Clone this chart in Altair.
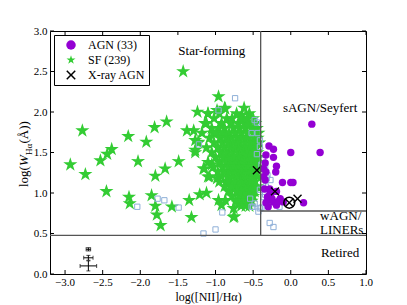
import altair as alt
import pandas as pd

# ---------------- data ----------------
sf_points = [
    # isolated SF galaxies
    (-2.93, 1.35), (-2.77, 1.77), (-2.73, 1.23), (-2.53, 1.40), (-2.44, 1.48), (-2.38, 1.54),
    (-2.45, 1.02), (-2.16, 1.70), (-2.03, 1.39), (-2.15, 0.95), (-2.14, 0.87), (-1.92, 1.63),
    (-1.81, 1.81), (-1.65, 1.88), (-1.80, 1.21), (-1.67, 1.30), (-1.85, 0.97), (-1.80, 0.84),
    (-1.78, 0.73), (-1.73, 0.60), (-1.58, 0.83), (-1.49, 1.39), (-1.38, 1.77), (-1.29, 1.77),
    (-1.35, 0.91), (-1.32, 0.70), (-1.24, 2.00), (-1.43, 2.50), (-0.96, 2.19), (-0.87, 2.04),
    (-1.10, 1.98), (-0.65, 1.96), (-1.15, 1.30), (-1.10, 1.20), (-0.98, 1.18), (-1.21, 0.98),
    (-1.12, 1.00), (-0.96, 0.91), (-0.87, 0.91), (-0.92, 0.85), (-0.76, 0.81), (-0.70, 0.87),
    (-0.75, 0.71), (-0.85, 1.12), (-0.74, 1.06), (-1.27, 1.53), (-1.23, 1.63), (-1.05, 1.35),
    (-0.98, 2.02), (-1.14, 1.86), (-1.03, 1.74), (-1.27, 1.65), (-1.16, 1.30), (-0.76, 0.70),
    # dense SF locus
    (-0.88, 2.05), (-0.62, 2.05),
    (-1.10, 1.98), (-0.95, 1.98), (-0.72, 1.98), (-0.55, 1.98),
    (-1.02, 1.92), (-0.85, 1.92), (-0.78, 1.92), (-0.65, 1.92), (-0.58, 1.92), (-0.50, 1.92),
    (-1.12, 1.86), (-0.92, 1.86), (-0.80, 1.86), (-0.70, 1.86), (-0.62, 1.86), (-0.55, 1.86), (-0.47, 1.86),
    (-1.05, 1.80), (-0.96, 1.80), (-0.88, 1.80), (-0.76, 1.80), (-0.68, 1.80), (-0.60, 1.80), (-0.52, 1.80), (-0.45, 1.80),
    (-1.18, 1.74), (-0.99, 1.74), (-0.90, 1.74), (-0.82, 1.74), (-0.74, 1.74), (-0.66, 1.74), (-0.58, 1.74), (-0.50, 1.74), (-0.43, 1.74),
    (-1.08, 1.68), (-0.94, 1.68), (-0.86, 1.68), (-0.79, 1.68), (-0.71, 1.68), (-0.64, 1.68), (-0.57, 1.68), (-0.49, 1.68), (-0.44, 1.68),
    (-1.23, 1.62), (-1.02, 1.62), (-0.91, 1.62), (-0.83, 1.62), (-0.76, 1.62), (-0.69, 1.62), (-0.61, 1.62), (-0.54, 1.62), (-0.47, 1.62), (-0.42, 1.62),
    (-1.12, 1.56), (-0.97, 1.56), (-0.88, 1.56), (-0.80, 1.56), (-0.73, 1.56), (-0.66, 1.56), (-0.59, 1.56), (-0.52, 1.56), (-0.46, 1.56),
    (-1.27, 1.50), (-1.05, 1.50), (-0.93, 1.50), (-0.85, 1.50), (-0.77, 1.50), (-0.70, 1.50), (-0.63, 1.50), (-0.56, 1.50), (-0.50, 1.50), (-0.44, 1.50),
    (-1.00, 1.44), (-0.90, 1.44), (-0.82, 1.44), (-0.75, 1.44), (-0.68, 1.44), (-0.61, 1.44), (-0.55, 1.44), (-0.48, 1.44), (-0.43, 1.44),
    (-1.10, 1.38), (-0.95, 1.38), (-0.86, 1.38), (-0.79, 1.38), (-0.72, 1.38), (-0.65, 1.38), (-0.58, 1.38), (-0.52, 1.38), (-0.46, 1.38),
    (-1.03, 1.32), (-0.91, 1.32), (-0.83, 1.32), (-0.76, 1.32), (-0.69, 1.32), (-0.62, 1.32), (-0.56, 1.32), (-0.49, 1.32), (-0.43, 1.32),
    (-0.97, 1.26), (-0.88, 1.26), (-0.80, 1.26), (-0.73, 1.26), (-0.66, 1.26), (-0.60, 1.26), (-0.53, 1.26), (-0.47, 1.26),
    (-1.08, 1.20), (-0.92, 1.20), (-0.84, 1.20), (-0.77, 1.20), (-0.70, 1.20), (-0.63, 1.20), (-0.57, 1.20), (-0.50, 1.20), (-0.44, 1.20),
    (-0.95, 1.14), (-0.81, 1.14), (-0.74, 1.14), (-0.67, 1.14), (-0.61, 1.14), (-0.55, 1.14), (-0.48, 1.14),
    (-0.88, 1.08), (-0.78, 1.08), (-0.70, 1.08), (-0.64, 1.08), (-0.58, 1.08), (-0.51, 1.08), (-0.45, 1.08),
    (-0.83, 1.02), (-0.72, 1.02), (-0.66, 1.02), (-0.60, 1.02), (-0.54, 1.02), (-0.48, 1.02),
    (-0.78, 0.96), (-0.68, 0.96), (-0.62, 0.96), (-0.56, 0.96), (-0.50, 0.96),
    (-0.73, 0.90), (-0.64, 0.90), (-0.58, 0.90), (-0.52, 0.90),
    (-0.66, 0.84), (-0.60, 0.84), (-0.55, 0.84),
]

agn_points = [
    (0.28, 1.85), (0.00, 1.50), (0.39, 1.50), (-0.29, 1.58), (-0.23, 1.54), (-0.33, 1.47),
    (-0.23, 1.44), (-0.34, 1.37), (-0.19, 1.33), (-0.33, 1.26), (-0.20, 1.26), (-0.34, 1.16),
    (-0.11, 1.13), (0.00, 1.13), (0.03, 1.13), (-0.28, 1.05), (-0.19, 1.02), (-0.28, 0.98),
    (-0.14, 0.93), (-0.30, 0.91), (-0.23, 0.89), (-0.10, 0.89), (-0.30, 0.83), (-0.19, 0.85),
    (0.17, 0.88), (-0.36, 1.20), (-0.35, 1.05), (-0.25, 0.93), (-0.33, 0.88), (-0.16, 0.90),
    (-0.26, 1.00), (-0.36, 1.30), (-0.31, 0.95),
]

other_points = [
    (-0.74, 2.17), (-0.96, 2.02), (-0.48, 1.90), (-0.45, 1.87), (-0.41, 1.65), (-0.44, 1.74),
    (-0.41, 1.57), (-0.37, 1.41), (-0.34, 1.32), (-0.31, 1.22), (-0.27, 1.16), (-0.37, 1.12),
    (-0.33, 1.08), (-0.41, 1.04), (-0.34, 0.98), (-0.54, 0.93), (-0.48, 0.87), (-0.41, 0.81),
    (-0.50, 0.83), (-0.28, 0.63), (-0.23, 0.58), (-2.04, 0.83), (-1.77, 0.93), (-1.68, 0.91),
    (-1.49, 0.82), (-1.16, 0.50), (-1.00, 0.55), (-0.91, 0.76), (-1.22, 1.60), (-0.52, 1.74),
    (-0.36, 0.95), (-0.32, 1.18), (-0.52, 0.83), (-0.43, 0.77), (-0.39, 0.82), (-0.15, 0.83),
    (-0.45, 1.48), (-0.39, 1.35),
]

xray_points = [(-0.45, 1.28), (-0.21, 1.02), (0.09, 0.93), (-0.02, 0.88)]
circled_points = [(-0.02, 0.88)]

err_x = [-2.69, -2.69, -2.69]
err_y = [0.305, 0.20, 0.10]
err_xe = [0.03, 0.062, 0.11]
err_ye = [0.02, 0.03, 0.062]

x_ticks = [-3.0, -2.5, -2.0, -1.5, -1.0, -0.5, 0.0, 0.5, 1.0]
y_ticks = [0.0, 0.5, 1.0, 1.5, 2.0, 2.5, 3.0]

# WHAN region boundaries
seg_x = [-0.4, -3.2, -0.4]
seg_x2 = [-0.4, 1.0, 1.0]
seg_y = [0.477, 0.477, 0.778]
seg_y2 = [3.0, 0.477, 0.778]

region_text = ["Star-forming", "sAGN/Seyfert", "wAGN/", "LINERs", "Retired"]
region_x = [-1.05, 0.39, 0.39, 0.39, 0.655]
region_y = [2.75, 2.05, 0.715, 0.545, 0.26]
region_align = ["center", "center", "left", "left", "center"]

groups = ["AGN (33)", "SF (239)", "X-ray AGN"]
# ---------------------------------------------------------------

W, H = 316, 243
SERIF = "Liberation Serif"
STAR = ("M0,-1L0.223,-0.307L0.951,-0.309L0.361,0.117L0.588,0.809L0,0.38"
        "L-0.588,0.809L-0.361,0.117L-0.951,-0.309L-0.223,-0.307Z")
XSHAPE = ("M-1,-0.78L-0.22,0L-1,0.78L-0.78,1L0,0.22L0.78,1L1,0.78L0.22,0"
          "L1,-0.78L0.78,-1L0,-0.22L-0.78,-1Z")

xs = alt.Scale(domain=[-3.2, 1.0], nice=False, zero=False)
ys = alt.Scale(domain=[0.0, 3.0], nice=False, zero=False)
cscale = alt.Scale(domain=groups, range=["#9400d3", "#33cc33", "black"])
sscale = alt.Scale(domain=groups, range=["circle", STAR, XSHAPE])

XAX = alt.Axis(labels=False, ticks=False, domain=False, grid=False, title="log([NII]/Hα)",
               titleFont=SERIF, titleFontSize=12, titleFontWeight="normal",
               titlePadding=17, titleColor="black")
YAX = alt.Axis(values=y_ticks, format=".1f", title=None, ticks=False, domain=False,
               grid=False, labelFont=SERIF, labelFontSize=11, labelPadding=3,
               labelColor="black", labelFlush=False, labelOverlap=False)


def xq(field):
    return alt.X(field, scale=xs, axis=XAX)


def yq(field):
    return alt.Y(field, scale=ys, axis=YAX)


def pts(points, group):
    return pd.DataFrame({"x": [p[0] for p in points], "y": [p[1] for p in points],
                         "group": group})


color_enc = alt.Color("group:N", scale=cscale, title=None,
                      legend=alt.Legend(orient="top-left", offset=4))
shape_enc = alt.Shape("group:N", scale=sscale, title=None,
                      legend=alt.Legend(orient="top-left", offset=4))

sf = alt.Chart(pts(sf_points, "SF (239)")).mark_point(filled=True, size=220, opacity=1).encode(
    x=xq("x:Q"), y=yq("y:Q"), color=color_enc, shape=shape_enc)

other = alt.Chart(pts(other_points, "other")).mark_point(
    shape="square", filled=False, color="#8fb0d8", size=28, strokeWidth=1, opacity=1
).encode(x=xq("x:Q"), y=yq("y:Q"))

agn = alt.Chart(pts(agn_points, "AGN (33)")).mark_point(filled=True, size=55, opacity=1).encode(
    x=xq("x:Q"), y=yq("y:Q"), color=color_enc, shape=shape_enc)

xray = alt.Chart(pts(xray_points, "X-ray AGN")).mark_point(filled=True, size=80, opacity=1).encode(
    x=xq("x:Q"), y=yq("y:Q"), color=color_enc, shape=shape_enc)

circ = alt.Chart(pts(circled_points, "c")).mark_point(
    shape="circle", filled=False, color="black", size=120, strokeWidth=1.5, opacity=1
).encode(x=xq("x:Q"), y=yq("y:Q"))

segs = pd.DataFrame({"x": seg_x, "x2": seg_x2, "y": seg_y, "y2": seg_y2})
lines = alt.Chart(segs).mark_rule(color="#555555", strokeWidth=1.3).encode(
    x=xq("x:Q"), x2="x2:Q", y=yq("y:Q"), y2="y2:Q")

labels = pd.DataFrame({"x": region_x, "y": region_y, "t": region_text, "a": region_align})
lab_c = alt.Chart(labels[labels.a == "center"]).mark_text(
    font=SERIF, fontSize=13, align="center", baseline="middle", color="black"
).encode(x=xq("x:Q"), y=yq("y:Q"), text="t:N")
lab_l = alt.Chart(labels[labels.a == "left"]).mark_text(
    font=SERIF, fontSize=13, align="left", baseline="middle", color="black"
).encode(x=xq("x:Q"), y=yq("y:Q"), text="t:N")

err = pd.DataFrame({"x": err_x, "y": err_y,
                    "xl": [a - b for a, b in zip(err_x, err_xe)],
                    "xh": [a + b for a, b in zip(err_x, err_xe)],
                    "yl": [a - b for a, b in zip(err_y, err_ye)],
                    "yh": [a + b for a, b in zip(err_y, err_ye)]})
ebx = alt.Chart(err).mark_rule(color="black", strokeWidth=1).encode(x=xq("xl:Q"), x2="xh:Q", y=yq("y:Q"))
eby = alt.Chart(err).mark_rule(color="black", strokeWidth=1).encode(x=xq("x:Q"), y=yq("yl:Q"), y2="yh:Q")
capxl = alt.Chart(err).mark_tick(color="black", orient="vertical", size=4, thickness=1).encode(x=xq("xl:Q"), y=yq("y:Q"))
capxh = alt.Chart(err).mark_tick(color="black", orient="vertical", size=4, thickness=1).encode(x=xq("xh:Q"), y=yq("y:Q"))
capyl = alt.Chart(err).mark_tick(color="black", orient="horizontal", size=4, thickness=1).encode(x=xq("x:Q"), y=yq("yl:Q"))
capyh = alt.Chart(err).mark_tick(color="black", orient="horizontal", size=4, thickness=1).encode(x=xq("x:Q"), y=yq("yh:Q"))

# inward ticks on all four sides, x tick labels below the frame
xt = pd.DataFrame({"x": x_ticks})
yt = pd.DataFrame({"y": y_ticks})
tk = dict(color="black", strokeWidth=1)
t_bot = alt.Chart(xt).mark_rule(**tk).encode(x=xq("x:Q"), y=alt.value(H), y2=alt.value(H - 4))
t_top = alt.Chart(xt).mark_rule(**tk).encode(x=xq("x:Q"), y=alt.value(0), y2=alt.value(4))
t_lft = alt.Chart(yt).mark_rule(**tk).encode(y=yq("y:Q"), x=alt.value(0), x2=alt.value(4))
t_rgt = alt.Chart(yt).mark_rule(**tk).encode(y=yq("y:Q"), x=alt.value(W), x2=alt.value(W - 4))
x_lab = alt.Chart(xt).mark_text(
    font=SERIF, fontSize=11, align="center", baseline="top", color="black"
).encode(x=xq("x:Q"), y=alt.value(H + 3), text=alt.Text("x:Q", format=".1f"))

# y-axis title with subscript, built from pieces
ytitle_parts = ["log(", "W", "Hα", " (Å))"]
yt1 = alt.Chart(pd.DataFrame({"t": [ytitle_parts[0]]})).mark_text(
    font=SERIF, fontSize=13, angle=270, align="left", baseline="alphabetic", color="black"
).encode(text="t:N", x=alt.value(-22), y=alt.value(156))
yt2 = alt.Chart(pd.DataFrame({"t": [ytitle_parts[1]]})).mark_text(
    font=SERIF, fontSize=13, fontStyle="italic", angle=270, align="left", baseline="alphabetic",
    color="black").encode(text="t:N", x=alt.value(-22), y=alt.value(135))
yt3 = alt.Chart(pd.DataFrame({"t": [ytitle_parts[2]]})).mark_text(
    font=SERIF, fontSize=9, angle=270, align="left", baseline="alphabetic", color="black"
).encode(text="t:N", x=alt.value(-18.5), y=alt.value(124))
yt4 = alt.Chart(pd.DataFrame({"t": [ytitle_parts[3]]})).mark_text(
    font=SERIF, fontSize=13, angle=270, align="left", baseline="alphabetic", color="black"
).encode(text="t:N", x=alt.value(-22), y=alt.value(112.5))

chart = alt.layer(
    sf, other, agn, xray, circ, lines, lab_c, lab_l,
    ebx, eby, capxl, capxh, capyl, capyh,
    t_bot, t_top, t_lft, t_rgt, x_lab, yt1, yt2, yt3, yt4,
).resolve_scale(color="shared", shape="shared").properties(
    width=W, height=H,
    autosize=alt.AutoSizeParams(type="none"),
    padding={"left": 42, "top": 23, "right": 33, "bottom": 31},
).configure_view(
    stroke="black", strokeWidth=1
).configure_legend(
    strokeColor="black", fillColor="white", padding=4, cornerRadius=0,
    labelFont=SERIF, labelFontSize=12, labelColor="black", symbolSize=90,
    symbolOffset=7, labelOffset=11, rowPadding=3, symbolStrokeWidth=0,
    symbolOpacity=1,
)

chart.save("out.html", embed_options={"renderer": "svg", "actions": False})
